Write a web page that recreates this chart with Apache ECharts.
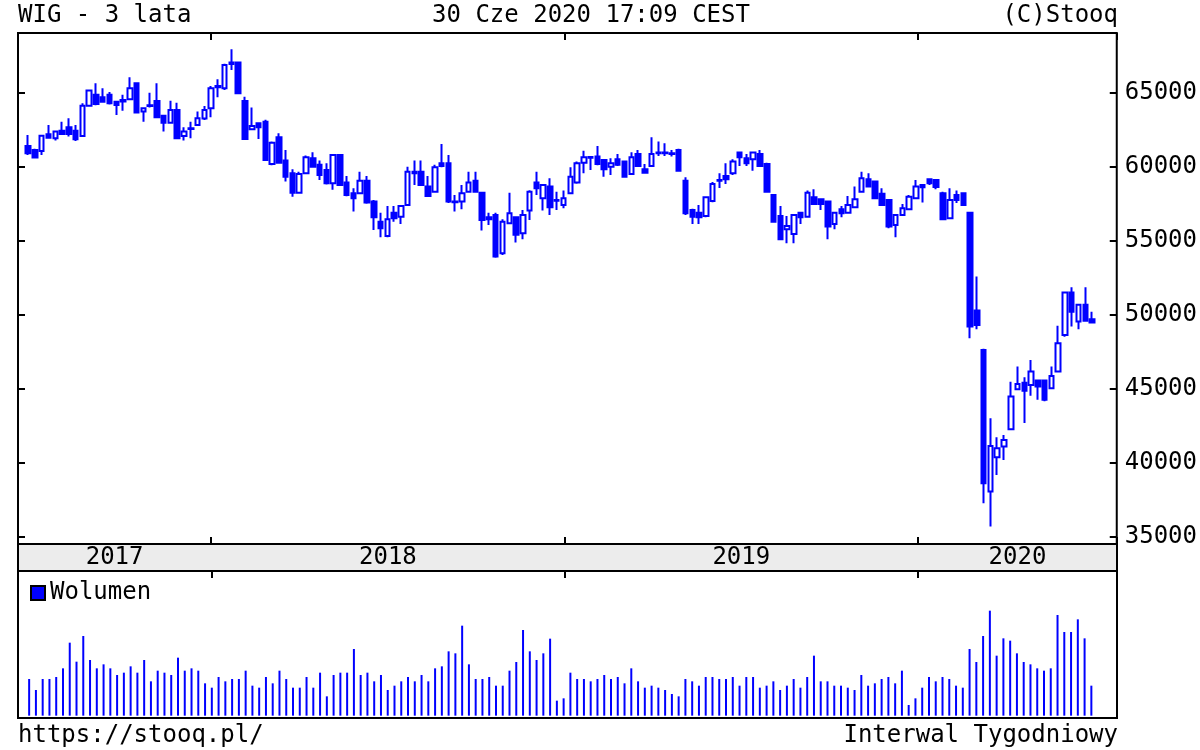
<!DOCTYPE html>
<html>
<head>
<meta charset="utf-8">
<title>WIG - 3 lata</title>
<script src="https://cdn.jsdelivr.net/npm/echarts@6/dist/echarts.min.js"></script>
<style>
html,body{margin:0;padding:0;background:#ffffff;}
#chart{width:1200px;height:750px;}
</style>
</head>
<body>
<div id="chart"></div>
<script>
// ---------- DATA ----------
const titleLeft = 'WIG - 3 lata';
const titleCenter = '30 Cze 2020 17:09 CEST';
const titleRight = '(C)Stooq';
const footLeft = 'https://stooq.pl/';
const footRight = 'Interwal Tygodniowy';
const volumeName = 'Wolumen';

// weekly candles, first week starts Monday 2017-06-26
const firstWeekStart = '2017-06-26';
const years = [2017, 2018, 2019, 2020];

const openV = [
61400,61130,61060,62190,61920,62430,62660,62430,62070,64120,
64850,64690,64850,64390,64500,64550,65640,63720,64100,64440,
63430,62970,63830,62070,62550,62820,63260,63950,65370,65300,
66940,67030,64440,62530,62930,63040,60180,61990,60410,59550,
58240,59550,60570,60120,59780,58880,60790,58920,58200,58200,
59050,57640,56280,55320,56890,56620,57410,59660,59660,58650,
58310,60230,60230,57640,57640,58310,59050,58240,56450,56740,
54150,56180,56580,55500,57030,58920,57870,58650,57750,57410,
58200,58920,60270,60600,60680,60450,60000,60500,60340,59510,
60860,59820,60050,60900,60950,60900,61130,59050,57070,56890,
56670,57680,59050,59370,59550,60950,60570,60500,60860,60180,
58090,56670,55770,55450,56890,56620,57930,57800,57640,56130,
57120,56890,57260,58310,59150,58990,58160,57750,56060,56740,
57120,57870,58760,59150,59100,58200,56510,58090,58200,56890,
50270,47610,38040,40360,41080,42260,44960,45400,45250,45540,
45540,45030,46150,48630,51490,49530,50660,49690
];
const closeV = [
60900,60610,62090,61960,62370,62210,62210,61850,64120,65140,
64240,64390,64280,64170,64400,65300,63650,63950,64150,63340,
62970,63830,61920,62370,62600,63270,63830,65300,65450,66870,
67030,64960,61870,62750,62660,60450,61620,60270,59320,58240,
59510,60640,60000,59440,58880,60790,58760,58090,57870,59050,
57570,56580,55840,56450,56510,57340,59660,59550,58760,58020,
59960,60050,57640,57600,58200,58920,58310,56400,56580,53920,
56280,56850,55390,56740,58310,58540,58760,57260,57700,57870,
59320,60230,60640,60650,60180,59820,60230,60120,59320,60640,
60050,59590,60860,60950,60900,60850,59730,56850,56620,56580,
57930,58830,59100,59150,60340,60640,60230,60950,60050,58310,
56280,55090,55990,56740,56580,58240,57480,57480,55950,56890,
56850,57410,57800,59220,58650,57870,57410,55950,56740,57190,
57970,58650,58610,58880,58630,56450,57750,57750,57410,49190,
49300,38610,41130,40970,41530,44460,45320,44860,46150,45140,
44240,45860,48070,51490,50200,50660,49590,49460
];
const lowV = [
60790,60550,60790,61900,61760,62150,62030,61740,62000,64100,
64150,64350,64200,63490,63780,64500,63600,63040,64000,63300,
62370,62900,61850,61760,61920,62750,63150,63340,64690,65180,
66530,64900,61800,62500,61870,60400,60100,60200,58990,57970,
58200,59500,59950,59100,58800,58430,58700,58000,56960,58150,
57500,55720,55230,55230,56280,56130,57350,58760,58700,57950,
58250,59950,57550,56960,57120,58250,58250,55680,56060,53850,
54030,56100,54870,55090,56400,58090,57030,56740,57070,57190,
58150,58850,59550,59780,60100,59320,59440,60050,59250,59450,
60000,59550,60000,60720,60720,60680,59650,56740,56130,56130,
56580,57600,58560,58830,59440,60050,60050,59730,60000,58250,
56220,55050,54820,54820,56130,56550,57400,57070,55090,55770,
56580,56850,57200,58250,58600,57800,57350,55840,55230,56700,
57050,57800,57570,58760,58470,56400,56450,57550,57350,48400,
49010,37260,35680,39170,40180,42200,44900,42680,44510,44240,
44150,44950,46100,48510,49190,49010,49550,49420
];
const highV = [
62140,61200,62150,62820,62400,63040,63270,62820,64280,65200,
65640,65300,65050,64450,64850,66040,65700,64000,65000,65640,
63450,64460,64320,62660,63040,63720,64100,65450,65900,66950,
67930,67100,64730,63990,62970,63160,61700,62260,61130,59820,
59660,60750,60970,60410,60230,60850,60850,59370,58540,59660,
59370,57750,56890,57340,57340,57400,60000,60410,60410,59370,
60120,61530,60790,58090,58760,59660,59660,58300,56890,56890,
56450,58240,56650,57070,58400,59660,58800,59220,58310,58380,
59960,60340,61080,60700,61400,60500,60570,60860,60400,60970,
61130,60180,61990,61690,61580,61130,61200,59280,57150,57410,
58000,58970,59550,60230,60500,61000,60860,61000,61130,60270,
58150,57340,56670,56800,56950,58380,58470,57850,57700,56950,
57340,58020,58650,59660,59550,59050,58540,57800,56800,57480,
58090,59100,58820,59220,59150,58300,58540,58380,58250,56950,
52570,47700,43000,41720,41870,45470,46490,45770,46940,45600,
45600,46490,49240,51550,51850,50700,51850,50200
];
// weekly volume (relative units, no scale shown on the chart)
const volume = [
110,77,110,110,116,142,219,162,239,167,
142,154,142,122,129,148,129,167,103,135,
129,122,174,135,142,135,97,84,116,103,
110,110,135,90,84,116,97,135,110,84,
84,116,84,129,58,122,129,129,200,122,
129,103,122,77,90,103,116,103,122,103,
142,148,193,187,270,154,110,110,116,90,
90,135,161,257,193,167,187,231,45,52,
129,110,110,103,110,122,110,116,97,142,
103,84,90,84,77,65,58,110,103,90,
116,116,110,110,116,90,116,116,84,90,
103,77,90,110,84,116,180,103,103,90,
90,84,77,122,90,97,110,116,97,135,
32,52,84,116,103,116,110,90,84,200,
161,239,315,180,232,225,187,161,154,142,
135,142,302,251,251,289,232,90
];

// ---------- BUILD ----------
const DAY = 86400000, WEEK = 7 * DAY;
const t0 = Date.parse(firstWeekStart + 'T00:00:00Z');
const weeks = openV.map((_, i) => t0 + i * WEEK);
const xMin = Date.UTC(2017, 5, 15, 12);
const xMax = Date.UTC(2020, 6, 24, 12);

const candleData = weeks.map((t, i) => [t, openV[i], closeV[i], lowV[i], highV[i]]);
const volData = weeks.map((t, i) => [t, volume[i]]);
const yearMids = years.map(y => {
  const a = Math.max(xMin, Date.UTC(y, 0, 1));
  const b = Math.min(xMax, Date.UTC(y + 1, 0, 1));
  return (a + b) / 2;
});

const FONT = 'DejaVu Sans Mono';
const FS = 24;
const FONT_CSS = FS + 'px "' + FONT + '"';
const BLUE = '#0000ff';
const L = 18, R = 83;

const tickStyle = { color: '#000', width: 2 };
function timeAxis(gridIndex, position, ticks) {
  return {
    type: 'time', gridIndex, position, min: xMin, max: xMax, splitNumber: 3,
    axisLine: { show: false, onZero: false },
    axisTick: { show: ticks, inside: true, length: 7, lineStyle: tickStyle },
    axisLabel: { show: false },
    splitLine: { show: false }
  };
}
function txt(id, text, x, y, align) {
  return { type: 'text', id, x, y, silent: true, z: 100,
    style: { text, fill: '#000', font: FONT_CSS, align, verticalAlign: 'middle', textAlign: align, textVerticalAlign: 'middle' } };
}

const chart = echarts.init(document.getElementById('chart'), null, { renderer: 'canvas' });
chart.setOption({
  animation: false,
  useUTC: true,
  backgroundColor: '#ffffff',
  textStyle: { fontFamily: FONT },
  grid: [
    { left: L, right: R, top: 33, height: 511, show: true, borderColor: '#000', borderWidth: 2, backgroundColor: '#fff' },
    { left: L, right: R, top: 544, height: 27, show: true, borderColor: '#000', borderWidth: 2, backgroundColor: '#ececec' },
    { left: L, right: R, top: 571, height: 147, show: true, borderColor: '#000', borderWidth: 2, backgroundColor: '#fff' }
  ],
  xAxis: [
    timeAxis(0, 'bottom', true),
    timeAxis(0, 'top', true),
    timeAxis(1, 'bottom', false),
    timeAxis(2, 'top', true)
  ],
  yAxis: [
    {
      type: 'value', gridIndex: 0, position: 'right', min: 34500, max: 69030, splitNumber: 5,
      axisLine: { show: false },
      axisTick: { show: true, inside: true, length: 7, lineStyle: tickStyle },
      axisLabel: {
        show: true, margin: 8, color: '#000', fontFamily: FONT, fontSize: FS,
        formatter: v => (v % 5000 === 0 ? String(v) : '')
      },
      splitLine: { show: false }
    },
    {
      type: 'value', gridIndex: 0, position: 'left', min: 34500, max: 69030, splitNumber: 5,
      axisLine: { show: false },
      axisTick: { show: true, inside: true, length: 7, lineStyle: tickStyle },
      axisLabel: { show: false },
      splitLine: { show: false }
    },
    { type: 'value', gridIndex: 1, min: 0, max: 1, show: false },
    { type: 'value', gridIndex: 2, min: -7, max: 434, show: false }
  ],
  legend: {
    show: true, left: 25, top: 576, itemWidth: 14, itemHeight: 14, itemGap: 6,
    data: [{ name: volumeName, icon: 'rect', itemStyle: { color: BLUE, borderColor: '#000', borderWidth: 2 } }],
    textStyle: { color: '#000', fontFamily: FONT, fontSize: FS },
    selectedMode: false
  },
  series: [
    {
      type: 'candlestick', name: 'WIG', xAxisIndex: 0, yAxisIndex: 0,
      data: candleData, encode: { x: 0, y: [1, 2, 3, 4] },
      barWidth: 5,
      itemStyle: {
        color: '#ffffff', color0: BLUE,
        borderColor: BLUE, borderColor0: BLUE, borderColorDoji: BLUE,
        borderWidth: 2
      },
      silent: true
    },
    {
      type: 'bar', name: volumeName, xAxisIndex: 3, yAxisIndex: 3,
      data: volData, encode: { x: 0, y: 1 },
      barWidth: 2, itemStyle: { color: BLUE }, silent: true
    }
  ],
  graphic: [
    txt('tl', titleLeft, 18, 15.5, 'left'),
    txt('tc', titleCenter, 591, 15.5, 'center'),
    txt('tr', titleRight, 1118, 15.5, 'right'),
    txt('fl', footLeft, 18, 736, 'left'),
    txt('fr', footRight, 1118, 736, 'right')
  ]
});

// year labels centred in the band, positioned through the band's time axis
const bandY = chart.convertToPixel({ yAxisIndex: 2 }, 0.5);
chart.setOption({
  graphic: years.map((y, i) =>
    txt('year' + y, String(y), chart.convertToPixel({ xAxisIndex: 2 }, yearMids[i]), bandY, 'center'))
});
</script>
</body>
</html>
